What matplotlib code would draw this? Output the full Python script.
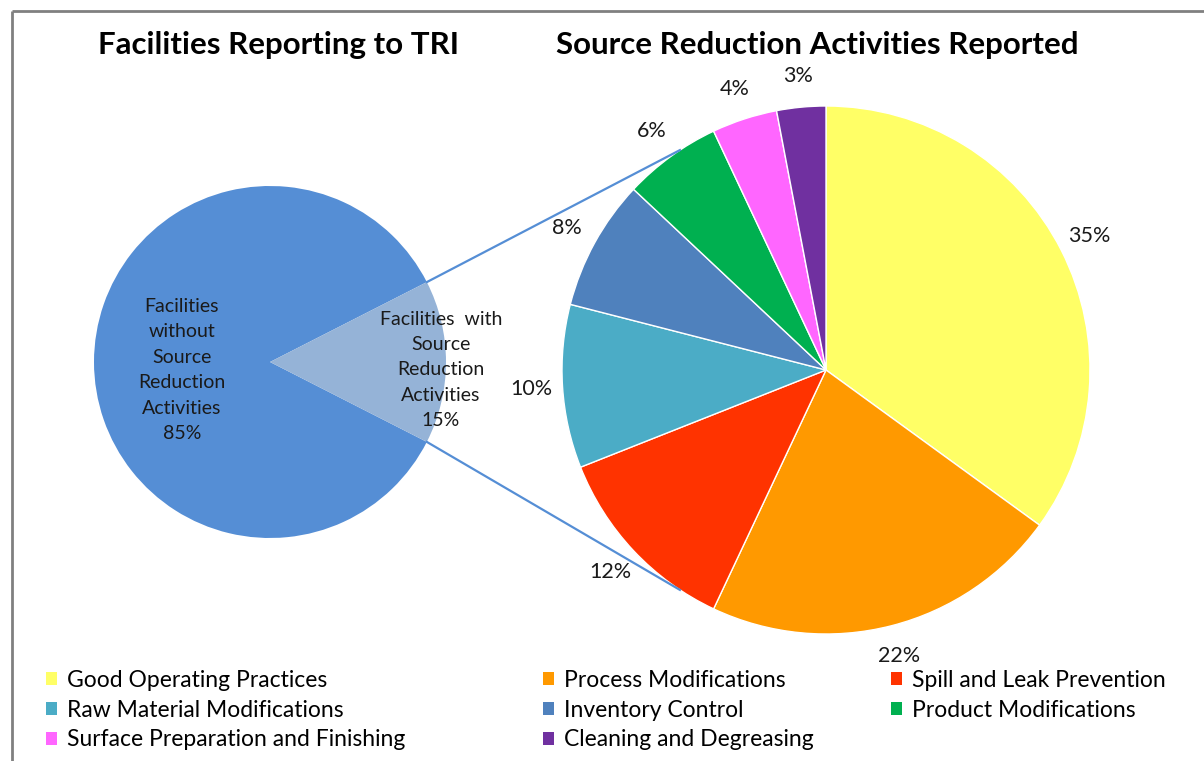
import matplotlib.pyplot as plt
from matplotlib.patches import Patch
import numpy as np

plt.rcParams['font.family'] = ['Lato', 'DejaVu Sans']

# left pie: all facilities
left_labels = ["Facilities\nwithout\nSource\nReduction\nActivities", "Facilities  with\nSource\nReduction\nActivities"]
left_values = [85, 15]
left_colors = ["#558ED5", "#95B3D7"]

# right pie: source reduction activities
activities = ["Good Operating Practices", "Process Modifications", "Spill and Leak Prevention",
              "Raw Material Modifications", "Inventory Control", "Product Modifications",
              "Surface Preparation and Finishing", "Cleaning and Degreasing"]
shares = [35, 22, 12, 10, 8, 6, 4, 3]
colors = ["#FFFF66", "#FF9900", "#FF3300", "#4BACC6", "#4F81BD", "#00B050", "#FF66FF", "#7030A0"]

W, H = 1204, 761
fig = plt.figure(figsize=(W / 100, H / 100), dpi=100)
ax = fig.add_axes([0, 0, 1, 1])

lc, lr = (270, H - 362), 176
rc, rr = (826, H - 370), 264

# left pie
lw_, _ = ax.pie(left_values, colors=left_colors, startangle=27, center=lc, radius=lr,
                wedgeprops=dict(linewidth=0))
for w, lab, v, d in zip(lw_, left_labels, left_values, [0.5, 0.97]):
    a = np.deg2rad((w.theta1 + w.theta2) / 2)
    ax.text(lc[0] + d * lr * np.cos(a), lc[1] + d * lr * np.sin(a) - 8, f"{lab}\n{v}%",
            ha='center', va='center', fontsize=14, color="#1a1a1a", linespacing=1.6)

# right pie
wedges, _ = ax.pie(shares, colors=colors, startangle=90, counterclock=False, center=rc, radius=rr,
                   wedgeprops=dict(linewidth=1, edgecolor='white'))
for w, v in zip(wedges, shares):
    a = np.deg2rad((w.theta1 + w.theta2) / 2)
    ax.text(rc[0] + 1.12 * rr * np.cos(a), rc[1] + 1.12 * rr * np.sin(a), f"{v}%",
            ha='center', va='center', fontsize=15.5, color="#1a1a1a")

# connector lines
sl = lw_[1]
for t_left, t_right in [(sl.theta2, 123.6), (sl.theta1, -123.6)]:
    a1, a2 = np.deg2rad(t_left), np.deg2rad(t_right)
    ax.plot([lc[0] + lr * np.cos(a1), rc[0] + rr * np.cos(a2)],
            [lc[1] + lr * np.sin(a1), rc[1] + rr * np.sin(a2)], color="#558ED5", lw=1.6)

# frame lines (top and left)
ax.plot([12, W], [H - 11, H - 11], color="#808080", lw=2, solid_capstyle='butt')
ax.plot([12, 12], [H - 11, 0], color="#808080", lw=2, solid_capstyle='butt')

ax.text(278, H - 45, "Facilities Reporting to TRI", ha='center', va='center',
        fontsize=22.5, fontweight='bold')
ax.text(817, H - 45, "Source Reduction Activities Reported", ha='center', va='center',
        fontsize=22.5, fontweight='bold')

ax.set_xlim(0, W)
ax.set_ylim(0, H)
ax.set_aspect('equal')
ax.axis('off')

# legend in three columns
cols = [[0, 3, 6], [1, 4, 7], [2, 5]]
xs = [46, 543, 891]
for idx, x in zip(cols, xs):
    handles = [Patch(facecolor=colors[i], edgecolor='none') for i in idx]
    fig.legend(handles, [activities[i] for i in idx],
               loc='upper left', bbox_to_anchor=(x / W, 1 - 670 / H), frameon=False,
               fontsize=16.5, handlelength=0.5, handleheight=0.5, handletextpad=0.4,
               labelspacing=0.38, borderaxespad=0, borderpad=0)

fig.savefig("out.png", dpi=100)
